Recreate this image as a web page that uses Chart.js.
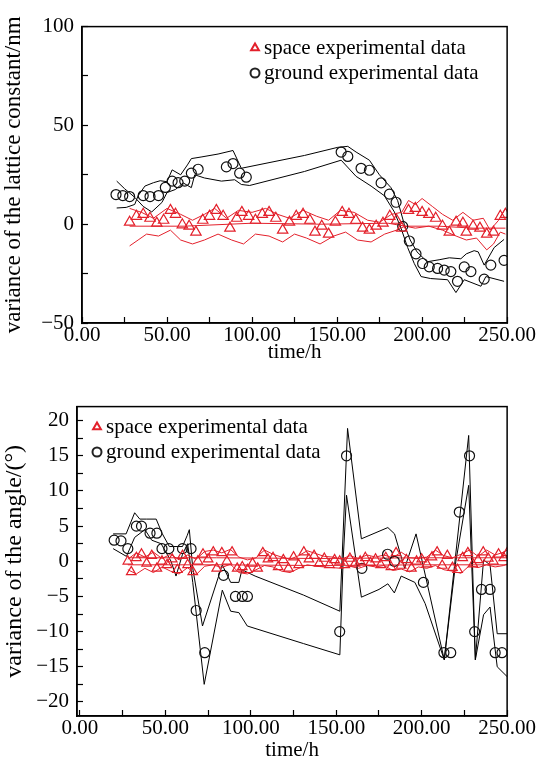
<!DOCTYPE html>
<html>
<head>
<meta charset="utf-8">
<script src="https://cdn.jsdelivr.net/npm/chart.js@4.4.1/dist/chart.umd.min.js"></script>
<style>
  html, body { margin: 0; padding: 0; background: #fff; }
  canvas { position: absolute; left: 0; }
  #latticeChart { top: 0; }
  #angleChart { top: 380px; }
</style>
</head>
<body>
<canvas id="latticeChart" width="542" height="380"></canvas>
<canvas id="angleChart" width="542" height="383"></canvas>
<script>
// ---- data: [time/h, value] ----
const xTicks = [0, 25, 50, 75, 100, 125, 150, 175, 200, 225, 250];
const latticeYTicks = [-50, -25, 0, 25, 50, 75, 100];
const angleYTicks = [-20, -17.5, -15, -12.5, -10, -7.5, -5, -2.5, 0, 2.5, 5, 7.5, 10, 12.5, 15, 17.5, 20];

// lattice constant (top chart)
const latticeSpace = [[28,1],[32,4],[36,5],[40,3],[44,0.5],[48,2],[52,7],[55,5],[59,-0.3],[63,-1],[67,-4],[71,2],[75,4],[79,7],[83,4],[87,-2],[91,3],[94,6],[98,4],[102,2],[106,5],[110,6],[114,3],[118,-3],[122,1],[126,4],[130,5],[134,2],[137,-4],[141,-1],[145,-5],[149,1],[153,6],[157,5],[161,2],[165,-2],[169,-3],[173,-1],[177,0.5],[181,4],[185,2],[188,-2],[192,7],[196,8],[200,6],[204,5],[208,3],[212,-1],[216,-4],[220,1],[224,0.5],[226,-4],[230,-1],[234,-2],[238,-5],[242,-4],[246,4],[249,5]];
const latticeSpaceUpper = [[28,8],[35,6],[42,3],[50,8],[58,5],[65,2],[72,5],[78,8],[85,3],[92,7],[100,6],[108,8],[115,5],[122,3],[130,7],[138,4],[145,2],[152,7],[160,6],[168,2],[175,1],[182,5],[188,6],[192,12],[196,10],[200,13],[206,9],[212,5],[218,2],[224,6],[230,2],[236,3],[240,-3],[245,2],[249,8]];
const latticeSpaceLower = [[28,-11],[33,-8],[38,-5],[45,-6],[52,-3],[58,-8],[65,-10],[72,-8],[80,-5],[88,-8],[95,-10],[102,-5],[110,-6],[118,-9],[125,-5],[132,-7],[140,-10],[148,-6],[155,-4],[162,-8],[170,-9],[178,-5],[185,-3],[190,-1],[196,-2],[204,-1],[212,-3],[220,-6],[226,-8],[232,-7],[238,-13],[242,-10],[246,-4],[249,-5]];
const latticeSpaceMid = [[28,-1],[60,-1],[100,0.5],[140,0],[180,0.5],[190,-1],[210,-1],[230,-2],[249,-2]];
const latticeGround = [[20,15],[24,14.5],[28,14],[36,14.5],[40,14],[45,14.5],[49,18.6],[53,21.8],[56.5,21],[60.4,21.8],[64.3,25.8],[68.3,27.8],[84.9,29],[88.8,30.7],[92.7,25.8],[96.6,23.8],[152.4,36.5],[156.3,34.3],[164.1,28.3],[169,27.3],[175.9,20.9],[180.8,15.2],[184.7,11.1],[188.6,-1.1],[192.5,-8.5],[196.4,-15],[200.3,-19.9],[204.2,-21.6],[209.1,-22.4],[213,-23.2],[216.9,-24],[220.8,-28.9],[224.8,-21.6],[228.7,-24],[236.5,-27.8],[240.4,-20.7],[248.2,-18.3]];
const latticeGroundA = [[20.4,21.8],[25,18],[31,13.6],[36,9],[41,6.2],[47,11],[50,16],[55,17.6],[59.5,20.9],[64.3,18.5],[66.3,25],[72,23.4],[82,21.8],[89.8,22.5],[93.7,20.1],[98.6,19.6],[130.9,26.7],[152.4,32.4],[161.2,24.2],[170,19.3],[177.8,14.4],[183.7,6.2],[187.6,-2],[191.5,-11.8],[195.4,-19.9],[199.4,-26.5],[205,-27.5],[215,-28.1],[219.9,-34.6],[224.8,-28.1],[234.6,-31.4],[237.5,-26.5],[248.2,-28.9]];
const latticeGroundB = [[20.4,8.2],[26,8.5],[31,10],[33,14.4],[37,19.3],[42,21],[46,22],[50,21.5],[53,27.5],[58,25],[62,30],[64.3,33.2],[70,34],[80,35.5],[88.8,37.3],[93.7,28.3],[130.9,34.8],[150.4,38.9],[156.3,39.4],[161.2,36.5],[169,32.4],[174.9,25],[181.7,18.5],[185.6,12],[189.6,-0.3],[193,-8],[197,-14],[203,-19],[210,-18],[216,-17],[222.8,-17.5],[226,-15],[230.6,-13.4],[233,-14],[236.5,-20.7],[242.4,-11.8],[248.2,-7.7]];

// angle (bottom chart)
const angleSpace = [[28,0],[30,-1.5],[33,0.5],[36,1],[39,-0.3],[42,0.8],[45,-1],[48,0],[51,-0.5],[54,0.3],[57,-1.2],[60,0.8],[63,-0.5],[66,-1.5],[69,0],[72,1],[75,0.3],[78,1.3],[80,-1],[83,1.2],[86,0],[89,1.3],[92,-1],[95,-0.8],[98,-1.2],[101,-0.3],[104,-1],[107,1.2],[110,0.3],[113,0.5],[116,-0.8],[119,0.2],[122,-1],[125,0.6],[128,-0.5],[131,1.3],[134,0.3],[137,0.8],[140,-0.3],[143,0.4],[146,-0.5],[149,0.2],[152,0],[155,-0.5],[158,0.4],[161,-0.3],[164,0],[167,0.5],[170,-0.2],[173,0.3],[176,-0.5],[179,0.5],[182,-0.8],[185,1.2],[188,-0.6],[191,0.2],[194,-1],[197,0],[200,0.3],[203,-0.4],[206,0.6],[209,1.3],[212,-0.6],[215,0.8],[218,-0.9],[221,-1.2],[224,0.5],[227,1.2],[230,-0.4],[233,0.2],[236,1.3],[239,0.4],[242,0],[245,1],[248,0.5],[250,1.2]];
const angleSpaceUpper = [[28,0.3],[33,1.2],[38,0.6],[43,1.3],[48,0.4],[53,1],[58,0.2],[63,0.9],[68,0.3],[73,1.4],[78,1.6],[83,1.2],[88,1.7],[93,0.6],[98,0.2],[103,0.5],[108,1.6],[113,1],[118,0.6],[123,0.3],[128,0.8],[133,1.5],[138,1.1],[143,0.7],[148,0.6],[153,0.3],[158,0.8],[163,0.4],[168,0.9],[173,0.6],[178,0.9],[183,0.5],[188,1.3],[193,0.5],[198,0.4],[203,0.6],[208,1.6],[213,0.8],[218,0.5],[223,1],[228,1.6],[233,0.7],[238,1.6],[243,0.9],[248,1.3],[250,1.6]];
const angleSpaceLower = [[28,-1.2],[33,-1.8],[38,-1],[43,-1.6],[48,-0.8],[53,-1.4],[58,-1.8],[63,-0.9],[68,-1.9],[73,-0.7],[78,-0.5],[83,-0.9],[88,-0.4],[93,-1.6],[98,-1.8],[103,-1.2],[108,-0.6],[113,-0.8],[118,-1.4],[123,-1.6],[128,-1],[133,-0.5],[138,-0.7],[143,-0.8],[148,-0.9],[153,-1],[158,-0.7],[163,-1],[168,-0.6],[173,-0.8],[178,-0.6],[183,-1.3],[188,-1.1],[193,-1.5],[198,-0.8],[203,-1],[208,-0.6],[213,-1.2],[218,-1.4],[223,-1.7],[228,-0.6],[233,-0.9],[238,-0.5],[243,-0.8],[248,-0.6],[250,-0.4]];
const angleSpaceMidA = [[28,0.5],[80,0.5],[140,0.4],[200,0.5],[250,0.5]];
const angleSpaceMidB = [[28,-0.5],[80,-0.5],[140,-0.6],[200,-0.5],[250,-0.5]];
const angleGround = [[20,3],[24,2.9],[28,1.8],[33,5],[36,5],[41,4],[45,4],[48,1.8],[52,1.8],[60,1.8],[65,1.8],[68,-7],[73,-13],[84,-2],[91,-5],[95,-5],[98,-5],[152,-10],[156,15],[165,-1],[180,1],[184,0],[201,-3],[213,-13],[217,-13],[222,7],[228,15],[231,-10],[235,-4],[240,-4],[243,-13],[247,-13]];
const angleGroundA = [[19.4,3.9],[27,3.9],[32,6.9],[35,6],[38.8,6],[44.6,6],[48,4],[52.3,2.1],[60,2.1],[62.8,3.7],[64,4.5],[66,-1],[71.7,-9.2],[83.3,-0.5],[88.2,-3],[93,-3],[94.8,-1.2],[102.5,-2.1],[130.8,-4.8],[152.1,-7.1],[156.6,18.9],[164.7,3.2],[180.2,4.8],[184.1,3.9],[190,-1],[196.7,3.9],[213.2,-14],[227.5,17.9],[231.4,-14],[236.2,0.2],[240,-0.5],[244.2,-10.3],[250,-10.3]];
const angleGroundB = [[19.4,1.8],[27.2,0.7],[32,3.4],[38,4.5],[42,3],[47.5,2.5],[53.3,0],[56.2,-2.1],[60,1],[63,2.5],[66,-3],[72.7,-17.5],[83.3,-4.1],[88.2,-7.1],[93,-7.3],[97.9,-9.2],[130.8,-11.7],[152.1,-13.3],[154,0],[156,9.4],[164.7,-5.1],[175,-4],[180.2,-3.2],[184,-4.5],[188,-2.1],[196,-3],[202,-6],[213.2,-14],[220,0],[227.5,10.8],[231.4,-14],[236.2,-7.6],[240,-6.5],[244.2,-15],[250,-16.4]];

const RED = '#e3202b';
const FONT = 'Liberation Serif';
const toXY = arr => arr.map(([x, y]) => ({ x, y }));
const minus = s => String(s).replace('-', '\u2212');

// 외곽 테두리 + 범례
const frameLegend = {
    id: 'frameLegend',
    afterDraw(chart, args, opts) {
        const { ctx, chartArea: a } = chart;
        ctx.save();
        ctx.strokeStyle = '#000';
        ctx.lineWidth = 1.5;
        ctx.strokeRect(a.left, a.top, a.right - a.left, a.bottom - a.top);
        ctx.font = '21px "' + FONT + '"';
        ctx.textBaseline = 'middle';
        opts.items.forEach((it, i) => {
            const y = opts.y + i * opts.gap;
            ctx.fillStyle = 'rgba(0,0,0,0)';
            ctx.strokeStyle = it.color;
            ctx.lineWidth = 2;
            Chart.helpers.drawPoint(ctx, { pointStyle: it.style, radius: 4.5, rotation: 0, borderWidth: 2 }, opts.x, y);
            ctx.fillStyle = '#000';
            ctx.fillText(it.label, opts.x + 9, y);
        });
        ctx.restore();
    }
};

const lineSet = (data, color) => ({
    type: 'line', data: toXY(data), borderColor: color, borderWidth: 1,
    pointRadius: 0, fill: false, tension: 0, order: 2
});
const pointSet = (label, data, color, style, r) => ({
    type: 'line', label, data: toXY(data), showLine: false,
    pointStyle: style, pointRadius: r, borderColor: color, pointBorderColor: color,
    pointBackgroundColor: 'rgba(0,0,0,0)', pointBorderWidth: 1.2, order: 1
});

function makeChart(id, cfg) {
    const tickFont = { family: FONT, size: 21 };
    return new Chart(document.getElementById(id).getContext('2d'), {
        type: 'line',
        data: { datasets: cfg.datasets },
        options: {
            responsive: false,
            animation: false,
            layout: { padding: cfg.padding },
            plugins: {
                legend: { display: false },
                tooltip: { enabled: false },
                frameLegend: cfg.legend
            },
            scales: {
                x: {
                    type: 'linear', min: cfg.xMin, max: 250,
                    afterBuildTicks: axis => { axis.ticks = xTicks.map(v => ({ value: v })); },
                    afterFit: axis => { axis.height = cfg.xHeight; },
                    grid: { drawOnChartArea: false, drawTicks: true, tickLength: -6, color: '#000', tickWidth: 1.2 },
                    border: { display: true, color: '#000', width: 1.5 },
                    ticks: {
                        font: tickFont, color: '#000', padding: 6, maxRotation: 0, autoSkip: false,
                        callback: v => (v % 50 === 0 ? v.toFixed(2) : '')
                    },
                    title: { display: true, text: 'time/h', font: tickFont, color: '#000', padding: { top: -4, bottom: 0 } }
                },
                y: {
                    type: 'linear', min: cfg.yMin, max: cfg.yMax,
                    afterBuildTicks: axis => { axis.ticks = cfg.yTicks.map(v => ({ value: v })); },
                    afterFit: axis => { axis.width = cfg.yWidth; },
                    grid: { drawOnChartArea: false, drawTicks: true, tickLength: -6, color: '#000', tickWidth: 1.2 },
                    border: { display: true, color: '#000', width: 1.5 },
                    ticks: {
                        font: tickFont, color: '#000', padding: 14, autoSkip: false,
                        callback: v => (v % cfg.yLabelStep === 0 ? minus(v) : '')
                    },
                    title: { display: true, text: cfg.yTitle, font: { family: FONT, size: cfg.yTitleSize }, color: '#000', padding: { top: 0, bottom: 2 } }
                }
            }
        },
        plugins: [frameLegend]
    });
}

makeChart('latticeChart', {
    padding: { top: 16, right: 34, left: 0, bottom: 15 },
    xMin: 0, xHeight: 42, yWidth: 82,
    yMin: -50, yMax: 100, yTicks: latticeYTicks, yLabelStep: 50,
    yTitle: 'variance of the lattice constant/nm', yTitleSize: 23,
    legend: {
        x: 255, y: 48, gap: 25,
        items: [
            { label: 'space experimental data', color: RED, style: 'triangle' },
            { label: 'ground experimental data', color: '#222', style: 'circle' }
        ]
    },
    datasets: [
        lineSet(latticeSpaceUpper, RED), lineSet(latticeSpaceLower, RED), lineSet(latticeSpaceMid, RED),
        lineSet(latticeGroundA, '#000'), lineSet(latticeGroundB, '#000'),
        pointSet('space experimental data', latticeSpace, RED, 'triangle', 6),
        pointSet('ground experimental data', latticeGround, '#111', 'circle', 5)
    ]
});

makeChart('angleChart', {
    padding: { top: 16, right: 31, left: 0, bottom: 0 },
    xMin: -1.75, xHeight: 47, yWidth: 77,
    yMin: -22, yMax: 22, yTicks: angleYTicks, yLabelStep: 5,
    yTitle: 'variance of the angle/(\u00b0)', yTitleSize: 24,
    legend: {
        x: 97, y: 47, gap: 25,
        items: [
            { label: 'space experimental data', color: RED, style: 'triangle' },
            { label: 'ground experimental data', color: '#222', style: 'circle' }
        ]
    },
    datasets: [
        lineSet(angleSpaceUpper, RED), lineSet(angleSpaceLower, RED),
        lineSet(angleSpaceMidA, RED), lineSet(angleSpaceMidB, RED),
        lineSet(angleGroundA, '#000'), lineSet(angleGroundB, '#000'),
        pointSet('space experimental data', angleSpace, RED, 'triangle', 5.5),
        pointSet('ground experimental data', angleGround, '#111', 'circle', 5)
    ]
});
</script>
</body>
</html>
